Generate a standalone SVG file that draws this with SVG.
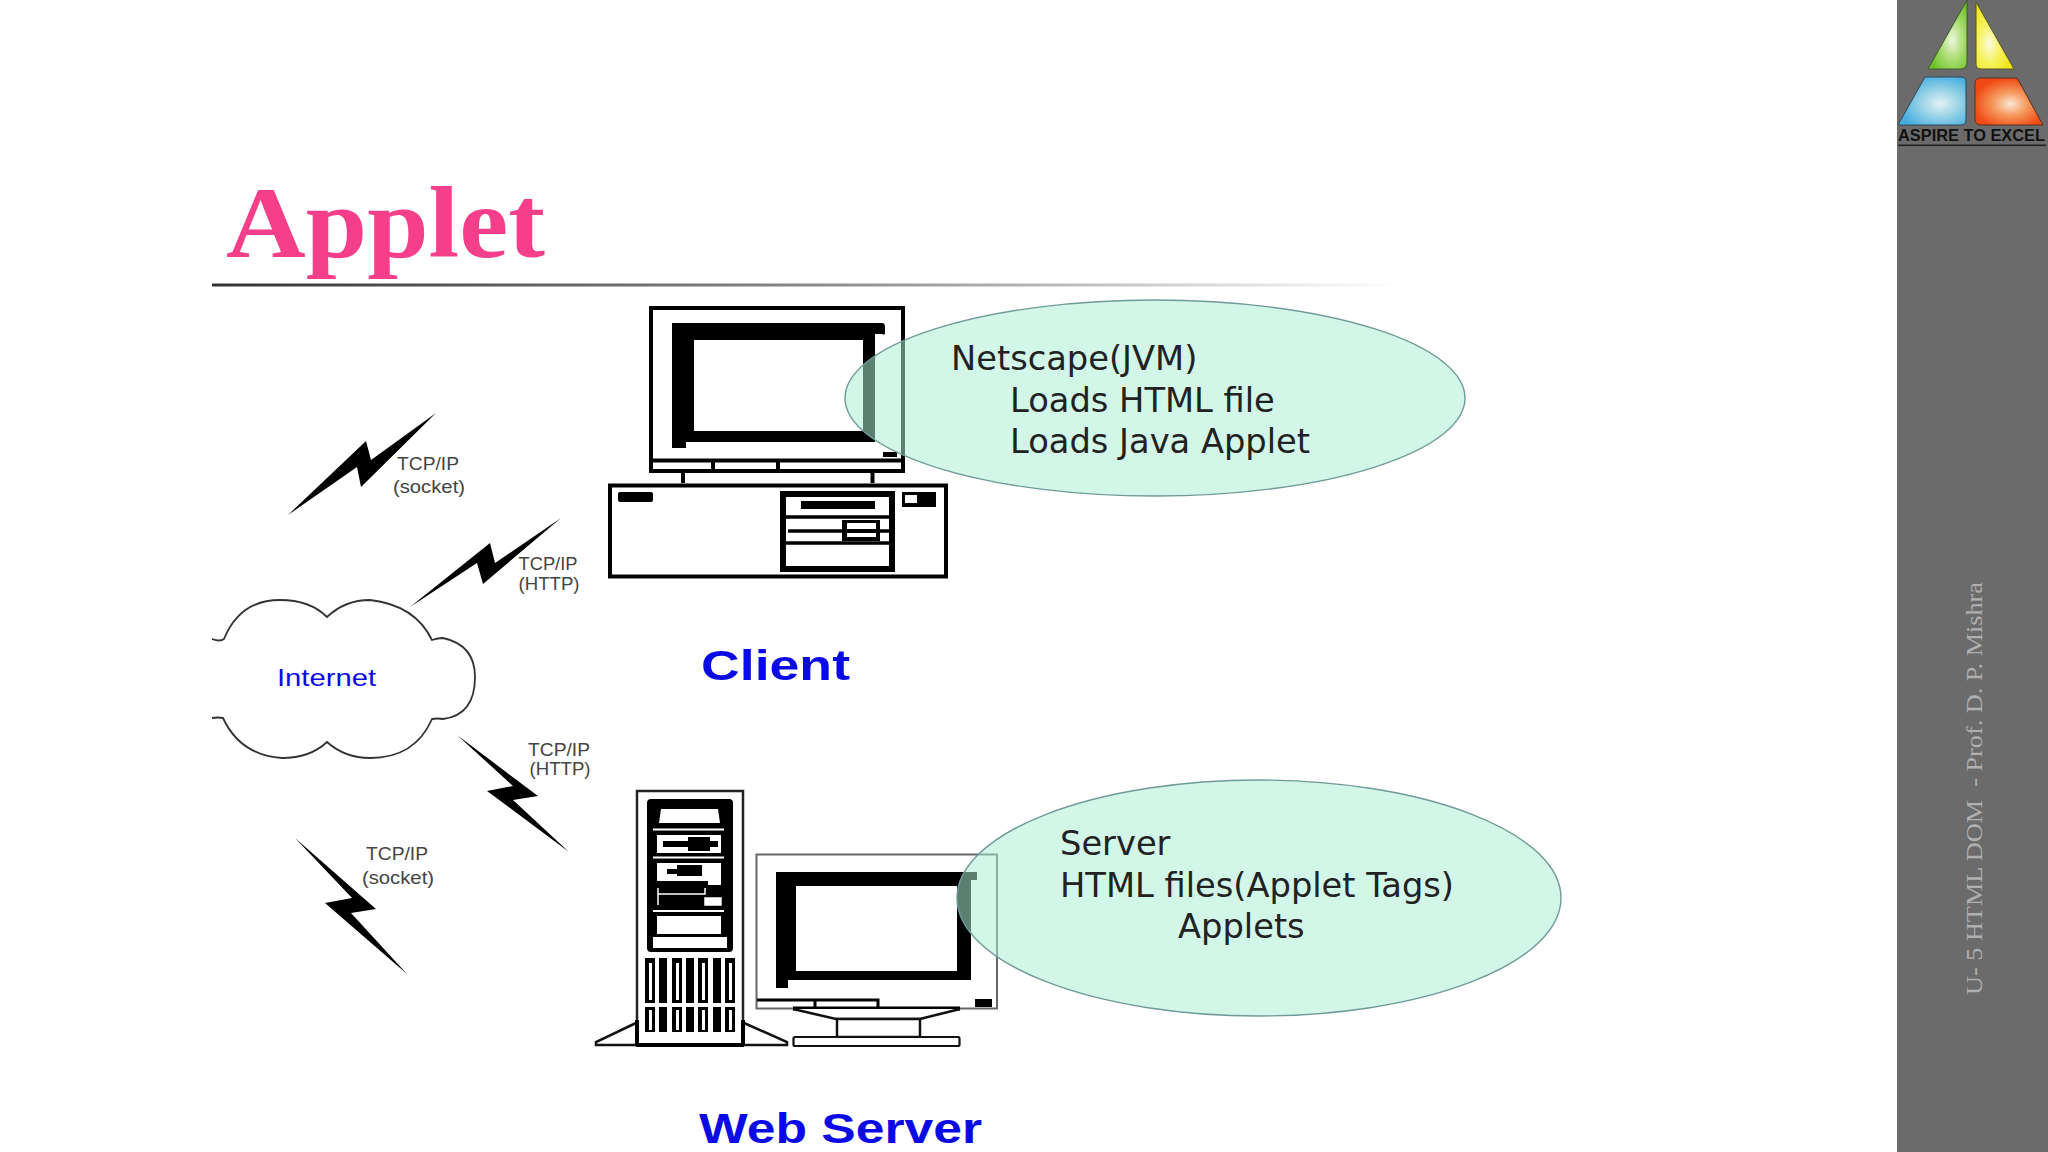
<svg xmlns="http://www.w3.org/2000/svg" width="2048" height="1152" viewBox="0 0 2048 1152">
<style>
.s{font-family:"Liberation Sans",Arial,sans-serif}
.d{font-family:"DejaVu Sans",Verdana,sans-serif;font-size:33.7px;fill:#222}
.t{font-family:"Liberation Sans",Arial,sans-serif;font-size:18.5px;fill:#444;text-anchor:middle}
.b{font-family:"Liberation Sans",Arial,sans-serif;fill:#0a0ae6}
.k{fill:#000}.w{fill:#fff}
.o{fill:#fff;stroke:#000;stroke-width:4}
.e{fill:#abeed4;fill-opacity:.533;stroke:#6f9a98;stroke-width:1.4}
</style>
<defs>
<linearGradient id="rule" x1="0" x2="1" y1="0" y2="0"><stop offset="0" stop-color="#333"/><stop offset=".5" stop-color="#888"/><stop offset="1" stop-color="#fff"/></linearGradient>
<radialGradient id="gG" cx=".62" cy=".58" r=".6"><stop offset="0" stop-color="#eef6e0"/><stop offset=".5" stop-color="#a8dc70"/><stop offset="1" stop-color="#6cc22a"/></radialGradient>
<radialGradient id="gY" cx=".35" cy=".62" r=".6"><stop offset="0" stop-color="#fbfbe0"/><stop offset=".5" stop-color="#f6f25a"/><stop offset="1" stop-color="#efe81a"/></radialGradient>
<radialGradient id="gB" cx=".62" cy=".55" r=".6"><stop offset="0" stop-color="#e4f2f6"/><stop offset=".45" stop-color="#9cd4e6"/><stop offset="1" stop-color="#48aee0"/></radialGradient>
<radialGradient id="gR" cx=".52" cy=".55" r=".55"><stop offset="0" stop-color="#fbe6d8"/><stop offset=".45" stop-color="#f59a5e"/><stop offset="1" stop-color="#f04a14"/></radialGradient>
</defs>
<rect width="2048" height="1152" fill="#fff"/>
<g id="sidebar">
<rect x="1897" y="0" width="151" height="1152" fill="#6b6b6b"/>
<path d="M1967 0L1928 69H1961Q1967 69 1967 62Z" fill="url(#gG)" stroke="#3f5a2a"/>
<path d="M1976 2L2014 69H1981Q1976 69 1976 64Z" fill="url(#gY)" stroke="#55552a"/>
<path d="M1925 77H1961Q1966 77 1966 82V120Q1966 125 1961 125H1898Z" fill="url(#gB)" stroke="#2d4a5a"/>
<path d="M1980 78H2017L2043 125H1981Q1975 125 1975 119V84Q1975 78 1980 78Z" fill="url(#gR)" stroke="#5a3020"/>
<text class="s" x="1898" y="141" font-size="16.500" font-weight="700" fill="#111" textLength="147" lengthAdjust="spacingAndGlyphs">ASPIRE TO EXCEL</text>
<rect x="1898" y="144.500" width="148" height="1.6" fill="#222"/>
<text transform="translate(1982 995) rotate(-90)" font-family="Liberation Serif,serif" font-size="23" fill="#b0b0b0" textLength="413" lengthAdjust="spacingAndGlyphs" xml:space="preserve">U- 5 HTML DOM  - Prof. D. P. Mishra</text>
</g>
<g id="title">
<text x="226" y="257" font-family="Liberation Serif,serif" font-weight="700" font-size="102" fill="#f63f8a" textLength="319" lengthAdjust="spacingAndGlyphs">Applet</text>
<rect x="212" y="283.500" width="1190" height="3" fill="url(#rule)"/>
</g>
<g id="cloud">
<path d="M212 639Q220 642 224 639Q240 600 280 600Q310 600 327 617Q345 600 370 600Q415 605 432 640Q438 638 443 638Q475 645 475 677Q475 715 443 719Q438 718 432 719Q415 758 370 758Q345 758 327 742Q310 758 282 758Q240 755 223 718Q218 717 212 718" fill="#fff" stroke="#333" stroke-width="1.800"/>
<text class="b" x="277" y="686" font-size="24" textLength="99" lengthAdjust="spacingAndGlyphs">Internet</text>
</g>
<g id="connectors">
<path class="k" d="M436 413L371 460L366 441L288 515L357 467L361 487Z"/>
<path class="k" d="M561 518L495 563L490 543L410 607L477 563L483 584Z"/>
<path class="k" d="M457 735L538 796L513 800L569 852L487 791L513 786Z"/>
<path class="k" d="M295 838L376 909L351 913L407 974L325 903L352 898Z"/>
</g>
<g id="labels">
<text class="t" x="428" y="470" textLength="62" lengthAdjust="spacingAndGlyphs">TCP/IP</text><text class="t" x="429" y="493" textLength="72" lengthAdjust="spacingAndGlyphs">(socket)</text>
<text class="t" x="548" y="570" textLength="59" lengthAdjust="spacingAndGlyphs">TCP/IP</text><text class="t" x="549" y="590" textLength="61" lengthAdjust="spacingAndGlyphs">(HTTP)</text>
<text class="t" x="559" y="756" textLength="62" lengthAdjust="spacingAndGlyphs">TCP/IP</text><text class="t" x="560" y="775" textLength="61" lengthAdjust="spacingAndGlyphs">(HTTP)</text>
<text class="t" x="397" y="860" textLength="62" lengthAdjust="spacingAndGlyphs">TCP/IP</text><text class="t" x="398" y="884" textLength="72" lengthAdjust="spacingAndGlyphs">(socket)</text>
</g>
<g id="client">
<rect class="o" x="651" y="308" width="252" height="163"/>
<path class="k" d="M672 323H882Q885 323 885 327V333Q885 336 882 334H875V442H686V448H672Z"/>
<rect class="w" x="694" y="340" width="169" height="91"/>
<rect class="k" x="883" y="452" width="14" height="5"/>
<path d="M651 460.500H903M713 460V471M778 460V471" stroke="#000" stroke-width="4" fill="none"/>
<path d="M683 473V483M872.500 473V483" stroke="#000" stroke-width="4" fill="none"/>
<rect class="o" x="610" y="485.500" width="336" height="91"/>
<rect class="k" x="618" y="492" width="35" height="10" rx="2"/>
<rect x="783" y="494" width="109" height="75" fill="#fff" stroke="#000" stroke-width="6"/>
<rect class="k" x="801" y="501" width="74" height="8"/>
<path d="M783 517H892M783 543H892M788 531H843M880 531H892" stroke="#000" stroke-width="3.500" fill="none"/>
<rect class="k" x="842" y="520" width="38" height="21"/>
<rect class="w" x="847" y="523" width="29" height="6"/><rect class="w" x="847" y="533" width="29" height="4"/>
<rect class="k" x="902" y="492" width="34" height="15"/><rect class="w" x="905" y="495" width="12" height="8"/>
<text class="b" x="701" y="680" font-size="43" font-weight="700" textLength="149" lengthAdjust="spacingAndGlyphs">Client</text>
</g>
<g id="web-server">
<rect x="637" y="791" width="106" height="254" fill="#fff" stroke="#222" stroke-width="2.500"/>
<path d="M636 1023L596 1042V1045H636M744 1023L787 1042V1045H744" fill="#fff" stroke="#111" stroke-width="2.500"/>
<path d="M636 1045H744M637 1020V1045M743 1020V1045" stroke="#000" stroke-width="4" fill="none"/>
<rect class="k" x="647" y="799" width="86" height="153" rx="4"/>
<path class="w" d="M661 809H718L720 823H659Z"/>
<path d="M653 829.500H724M653 857.500H724M653 911H724" stroke="#fff" stroke-width="2"/>
<rect class="w" x="657" y="835" width="64" height="18"/>
<rect class="k" x="663" y="841" width="55" height="6"/><rect class="k" x="688" y="837" width="22" height="14"/>
<path class="w" d="M657 863H721V885H708V881H657Z"/>
<rect class="k" x="667" y="869" width="35" height="5"/><rect class="k" x="677" y="865" width="25" height="11"/>
<path d="M658 888V905M658 894H705V888M705 898H721V905H705Z" stroke="#fff" stroke-width="1.500" fill="none"/>
<rect class="w" x="705" y="898" width="16" height="7"/>
<rect class="w" x="657" y="916" width="64" height="18"/>
<rect class="w" x="653" y="937" width="74" height="11"/>
<g id="vents">
<path class="k" d="M645 958h10v45h-10zM659 958h8v45h-8zM672 958h10v45h-10zM686 958h8v45h-8zM698 958h10v45h-10zM713 958h8v45h-8zM725 958h10v45h-10zM645 1007h10v25h-10zM659 1007h8v25h-8zM672 1007h10v25h-10zM686 1007h8v25h-8zM698 1007h10v25h-10zM713 1007h8v25h-8zM725 1007h10v25h-10z"/>
<path class="w" d="M649 963h3v37h-3zM676 963h3v37h-3zM702 963h3v37h-3zM729 963h3v37h-3zM649 1010h3v20h-3zM676 1010h3v20h-3zM702 1010h3v20h-3zM729 1010h3v20h-3z"/>
</g>
<rect x="756.500" y="854.500" width="240.500" height="154" fill="#fff" stroke="#666" stroke-width="2"/>
<path class="k" d="M776 872H977V880H971V980H788V988H776Z"/>
<rect class="w" x="796" y="886" width="161" height="85"/>
<rect class="k" x="975" y="999" width="17" height="8"/>
<path d="M757 1000H878V1008M815 1001V1008" fill="none" stroke="#000" stroke-width="3"/>
<path d="M793 1008.500H960" stroke="#000" stroke-width="4"/>
<path d="M793 1009L836 1019H920L960 1009" fill="#fff" stroke="#111" stroke-width="2.500"/>
<rect x="837" y="1019" width="83" height="18" fill="#fff" stroke="#111" stroke-width="2.500"/>
<rect x="793.500" y="1037" width="166" height="9" rx="1.500" fill="#fff" stroke="#111" stroke-width="2.200"/>
<text class="b" x="699" y="1143" font-size="43" font-weight="700" textLength="283" lengthAdjust="spacingAndGlyphs">Web Server</text>
</g>
<g id="netscape">
<ellipse class="e" cx="1155" cy="398" rx="310" ry="98"/>
<text class="d" x="951" y="370">Netscape(JVM)</text>
<text class="d" x="1010" y="412">Loads HTML file</text>
<text class="d" x="1010" y="453">Loads Java Applet</text>
</g>
<g id="server">
<ellipse class="e" cx="1259" cy="898" rx="302" ry="118"/>
<text class="d" x="1060" y="855">Server</text>
<text class="d" x="1060" y="897">HTML files(Applet Tags)</text>
<text class="d" x="1178" y="938">Applets</text>
</g>
</svg>
